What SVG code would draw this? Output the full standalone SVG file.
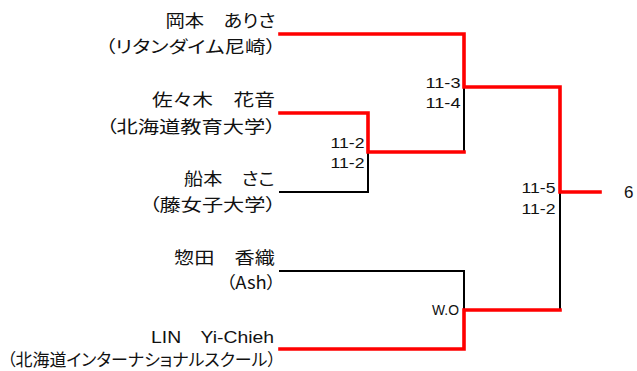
<svg xmlns="http://www.w3.org/2000/svg" width="637" height="371" viewBox="0 0 637 371">
<style>
.nm{font-family:"Noto Sans CJK JP","Liberation Sans",sans-serif;font-size:17px;fill:#111;font-feature-settings:"palt";}
.lt{font-family:"Liberation Sans","Noto Sans CJK JP",sans-serif;font-size:16px;fill:#111;}
.sc{font-family:"Liberation Sans","Noto Sans CJK JP",sans-serif;font-size:15px;fill:#111;}
.win{fill:none;stroke:#ff0000;stroke-width:3.6;stroke-linejoin:miter;stroke-linecap:square;}
.lose{fill:none;stroke:#000;stroke-width:2;stroke-linejoin:miter;stroke-linecap:square;}
</style>
<rect width="637" height="371" fill="#fff"/>
<g id="connectors">
<path class="lose" d="M464,87 V152"/>
<path class="lose" d="M280,192 H368 V152"/>
<path class="lose" d="M280,271 H464 V310"/>
<path class="lose" d="M560,192 V310"/>
<path class="win" d="M280,113 H368 V152 H464"/>
<path class="win" d="M280,34 H464 V87 H560 V192 H600"/>
<path class="win" d="M280,349 H464 V310 H560"/>
</g>
<g id="p1">
<text class="nm" x="165.5" y="27" textLength="110" lengthAdjust="spacingAndGlyphs">岡本　ありさ</text>
<text class="nm" x="105" y="53" textLength="171" lengthAdjust="spacingAndGlyphs">（リタンダイム尼崎）</text>
</g>
<g id="p2">
<text class="nm" x="152" y="106" textLength="123" lengthAdjust="spacingAndGlyphs">佐々木　花音</text>
<text class="nm" x="106" y="133" textLength="170" lengthAdjust="spacingAndGlyphs">（北海道教育大学）</text>
</g>
<g id="p3">
<text class="nm" x="184" y="185" textLength="91" lengthAdjust="spacingAndGlyphs">船本　さこ</text>
<text class="nm" x="149" y="211" textLength="127" lengthAdjust="spacingAndGlyphs">（藤女子大学）</text>
</g>
<g id="p4">
<text class="nm" x="174" y="264" textLength="101" lengthAdjust="spacingAndGlyphs">惣田　香織</text>
<text class="nm" x="226" y="289" textLength="50" lengthAdjust="spacingAndGlyphs">（Ash）</text>
</g>
<g id="p5">
<text class="lt" x="151" y="343" textLength="123" lengthAdjust="spacingAndGlyphs">LIN　Yi-Chieh</text>
<text class="nm" x="7" y="366" textLength="269" lengthAdjust="spacingAndGlyphs">（北海道インターナショナルスクール）</text>
</g>
<g id="m1">
<text class="sc" x="330.5" y="148" textLength="34" lengthAdjust="spacingAndGlyphs">11-2</text>
<text class="sc" x="330.5" y="168" textLength="34" lengthAdjust="spacingAndGlyphs">11-2</text>
</g>
<g id="m2">
<text class="sc" x="425.5" y="88" textLength="35" lengthAdjust="spacingAndGlyphs">11-3</text>
<text class="sc" x="425.5" y="108" textLength="35" lengthAdjust="spacingAndGlyphs">11-4</text>
</g>
<g id="m3">
<text class="sc" x="432" y="315" textLength="27" lengthAdjust="spacingAndGlyphs">W.O</text>
</g>
<g id="m4">
<text class="sc" x="521.5" y="193" textLength="34" lengthAdjust="spacingAndGlyphs">11-5</text>
<text class="sc" x="521.5" y="214" textLength="34" lengthAdjust="spacingAndGlyphs">11-2</text>
</g>
<g id="final">
<text class="sc" x="624" y="198" style="font-size:17px">6</text>
</g>
</svg>
